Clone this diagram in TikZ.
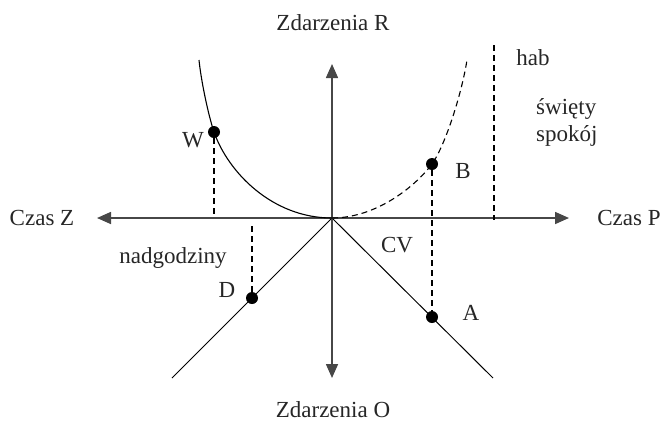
\documentclass[tikz,border=0pt]{standalone}
\usepackage{fontspec}
\setmainfont{Liberation Serif}
\usetikzlibrary{arrows.meta}
\begin{document}
\begin{tikzpicture}[x=1pt,y=-1pt,
  axisline/.style={line width=1.6pt, draw=black!72, {Triangle[length=14pt,width=12pt]}-{Triangle[length=14pt,width=12pt]}},
  diag/.style={line width=1pt, draw=black},
  curve/.style={line width=1.1pt, draw=black},
  dashline/.style={line width=1.1pt, draw=black, dash pattern=on 6pt off 4pt},
  dot/.style={circle, fill=black, inner sep=0pt, minimum size=12pt},
  lbl/.style={anchor=base, inner sep=0pt, font=\fontsize{23}{27}\selectfont, text=black!85}
]
\useasboundingbox (0,0) rectangle (661,421);
% axes
\coordinate (O) at (332,218);
\coordinate (xl) at (97,218);
\coordinate (xr) at (569,218);
\coordinate (yt) at (332,64);
\coordinate (yb) at (332,378);
\coordinate (dl) at (172,378);
\coordinate (dr) at (493,378);
\coordinate (topL) at (199,60);
\coordinate (topR) at (467,60);
\draw[diag] (O) -- (dl);
\draw[diag] (O) -- (dr);
\draw[axisline] (xl) -- (xr);
\draw[axisline] (yb) -- (yt);
% points
\node[dot] (W) at (214,132) {};
\node[dot] (B) at (432,164) {};
\node[dot] (D) at (252,298) {};
\node[dot] (A) at (432,317) {};
% curves
\draw[curve] (O) .. controls (272,218) and (228,172) .. (W.center)
             .. controls (208,114) and (201,80) .. (topL);
\draw[dashline] (O) .. controls (375,218) and (414,188) .. (B.center)
             .. controls (446,144) and (462,92) .. (topR);
% dashed guides
\draw[dashline] (W) -- (W |- O);
\draw[dashline] (D) -- ([yshift=-4pt]D |- O);
\draw[dashline] (B) -- (A);
\coordinate (h1) at (494,45);
\draw[dashline] (h1) -- ([yshift=-2pt]h1 |- O);
% labels
\node[lbl] (lR) at (333,30) {Zdarzenia R};
\node[lbl] (lO) at (333,417) {Zdarzenia O};
\node[lbl] (lZ) at (42,225) {Czas Z};
\node[lbl] (lP) at (629,225) {Czas P};
\node[lbl] (lhab) at (533,65) {hab};
\node[lbl, anchor=base west] (lsw) at (536,114) {święty};
\node[lbl, anchor=base west] (lsp) at (536,141) {spokój};
\node[lbl] (lW) at (193,147) {W};
\node[lbl] (lB) at (463,178) {B};
\node[lbl] (lCV) at (397,252) {CV};
\node[lbl] (lA) at (471,320) {A};
\node[lbl] (lD) at (227,297) {D};
\node[lbl] (lnad) at (173,263) {nadgodziny};
\end{tikzpicture}
\end{document}
